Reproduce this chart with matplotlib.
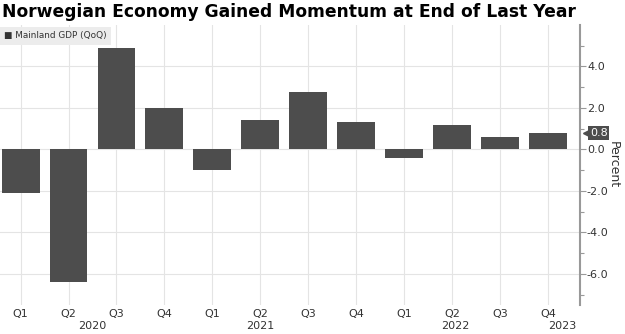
# Norway mainland GDP, quarter-on-quarter change, bar chart with right-side axis

import numpy as np
import matplotlib.pyplot as plt
import matplotlib.transforms as mtransforms
from matplotlib import font_manager

# quarterly data
quarters = ["Q1", "Q2", "Q3", "Q4", "Q1", "Q2", "Q3", "Q4", "Q1", "Q2", "Q3", "Q4"]
gdp_qoq = [-2.1, -6.4, 4.9, 2.0, -1.0, 1.4, 2.75, 1.3, -0.4, 1.2, 0.6, 0.8]
years = ["2020", "2021", "2022", "2023"]
year_pos = [1.5, 5.0, 9.07, 11.3]
yticks = [-6.0, -4.0, -2.0, 0.0, 2.0, 4.0]

bar_color = "#4d4d4d"
text_color = "#333333"

# narrow bold face for the headline if there is one
installed = {f.name for f in font_manager.fontManager.ttflist}
title_font = "Liberation Sans Narrow" if "Liberation Sans Narrow" in installed else "DejaVu Sans"

fig = plt.figure(figsize=(6.25, 3.34), dpi=100)
ax = fig.add_axes([0.0, 1 - 305 / 334, 580 / 625, (305 - 25) / 334])

x = np.arange(len(gdp_qoq))
ax.bar(x, gdp_qoq, width=0.79, color=bar_color, zorder=3)

ax.set_xlim(-0.43, 11.67)
ax.set_ylim(-7.5, 6.0)

# grid
ax.set_xticks(x)
ax.set_xticklabels(quarters)
ax.set_yticks(yticks)
ax.set_yticks(np.arange(-7, 6, 2), minor=True)
ax.grid(True, color="#e4e4e4", lw=0.8, zorder=0)

# right axis
ax.yaxis.tick_right()
ax.yaxis.set_label_position("right")
ax.set_yticklabels([f"{v:.1f}" for v in yticks])
ax.tick_params(axis="y", which="major", direction="out", length=4, width=0.8,
               color="#999999", labelsize=8, labelcolor=text_color, pad=1)
ax.tick_params(axis="y", which="minor", direction="out", length=3, width=0.8,
               color="#999999")
ax.tick_params(axis="x", length=0, labelsize=8, labelcolor=text_color, pad=3)
ax.set_ylabel("Percent", rotation=270, fontsize=9, color=text_color, labelpad=8)

for side in ["top", "left", "bottom"]:
    ax.spines[side].set_visible(False)
ax.spines["right"].set_color("#999999")
ax.spines["right"].set_linewidth(1.5)

# year labels under the quarters
trans = mtransforms.blended_transform_factory(ax.transData, ax.transAxes)
for yr, pos in zip(years, year_pos):
    ax.text(pos, -0.075, yr, transform=trans, ha="center", va="center",
            fontsize=8, color=text_color)

# last value tag on the axis
ytrans = mtransforms.blended_transform_factory(ax.transAxes, ax.transData)
last = gdp_qoq[-1]
ax.plot([1.01], [last], marker="<", ms=5, color=bar_color, transform=ytrans,
        clip_on=False, zorder=5)
ax.text(1.017, last, f"{last:.1f}", transform=ytrans, ha="left", va="center",
        fontsize=8, color="white", zorder=6,
        bbox=dict(boxstyle="square,pad=0.15", fc=bar_color, ec="none"))

# legend box
ax.text(0.007, 0.962, "\u25a0 Mainland GDP (QoQ)", transform=ax.transAxes,
        ha="left", va="center", fontsize=6.4, color=text_color, zorder=6,
        bbox=dict(boxstyle="square,pad=0.5", fc="#ececec", ec="none"))

# headline, sized to span the plot width
title = fig.text(0.003, 0.963, "Norwegian Economy Gained Momentum at End of Last Year",
                 ha="left", va="center", fontsize=14, fontweight="bold",
                 family=title_font, color="black")
renderer = fig.canvas.get_renderer()
w = title.get_window_extent(renderer).width
title.set_fontsize(14 * 576 / w)

plt.savefig("out.png", dpi=100)
